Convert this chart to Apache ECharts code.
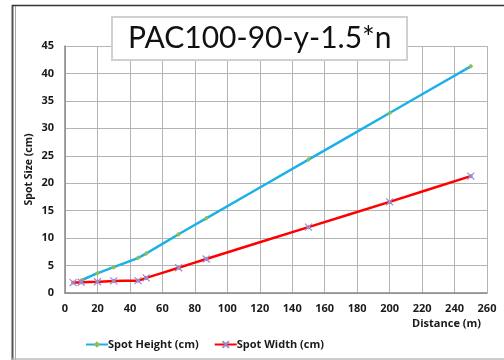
<!DOCTYPE html>
<html>
<head>
<meta charset="utf-8">
<script src="https://cdn.jsdelivr.net/npm/echarts@6/dist/echarts.min.js"></script>
<style>html,body{margin:0;padding:0;background:#fff;}#c{width:504px;height:360px;}</style>
</head>
<body>
<div id="c"></div>
<script>
var titleText = 'PAC100-90-y-1.5*n';
var xTicks = [0, 20, 40, 60, 80, 100, 120, 140, 160, 180, 200, 220, 240, 260];
var heightX = [10, 20, 30, 45, 50, 70, 87, 150, 200, 250];
var heightY = [2.3, 3.6, 4.7, 6.4, 7.2, 10.7, 13.6, 24.3, 32.8, 41.3];
var widthX = [5, 10, 20, 30, 45, 50, 70, 87, 150, 200, 250];
var widthY = [1.9, 1.95, 2.05, 2.2, 2.25, 2.75, 4.6, 6.2, 12.0, 16.6, 21.3];

function pairs(xs, ys) { return xs.map(function (x, i) { return [x, ys[i]]; }); }

var xPath = 'path://M0,0 L10,10 M10,0 L0,10 M5,2 L5,8 M2,5 L8,5';
var font = 'Open Sans';
var lblStyle = { fontFamily: font, fontWeight: 'bold', fontSize: 11, color: '#1a1a1a' };
var chart = echarts.init(document.getElementById('c'));
chart.setOption({
  animation: false,
  backgroundColor: '#fff',
  textStyle: { fontFamily: font },
  title: {
    text: titleText,
    left: 112, top: 17,
    padding: [5, 16, 6, 16],
    backgroundColor: '#fff',
    borderColor: '#d0d0d0', borderWidth: 2,
    textStyle: { fontFamily: 'Lato', fontSize: 30, fontWeight: 'normal', color: '#111', lineHeight: 32 }
  },
  grid: { left: 65, right: 17, top: 46, bottom: 67 },
  xAxis: {
    type: 'value', min: 0, max: 260, interval: 20,
    name: 'Distance (m)', nameLocation: 'end', nameGap: 0, nameMoveOverlap: false,
    nameTextStyle: Object.assign({}, lblStyle, { align: 'right', verticalAlign: 'top', padding: [25, 6, 0, 0] }),
    axisLine: { lineStyle: { color: '#888', width: 1.5 } },
    axisTick: { show: false },
    axisLabel: Object.assign({}, lblStyle, { margin: 10 }),
    splitLine: { lineStyle: { color: '#b4b4b4', width: 1 } }
  },
  yAxis: {
    type: 'value', min: 0, max: 45, interval: 5,
    name: 'Spot Size (cm)', nameLocation: 'middle', nameGap: 30, nameRotate: 90, nameMoveOverlap: false,
    nameTextStyle: Object.assign({}, lblStyle, { fontSize: 10.5 }),
    axisLine: { show: true, lineStyle: { color: '#888', width: 1.5 } },
    axisTick: { show: false },
    axisLabel: Object.assign({}, lblStyle, { margin: 11 }),
    splitLine: { lineStyle: { color: '#b4b4b4', width: 1 } }
  },
  legend: {
    left: 80, top: 334,
    itemWidth: 22, itemHeight: 8, itemGap: 15,
    textStyle: Object.assign({}, lblStyle, { padding: [0, 0, 0, -5] }),
    data: ['Spot Height (cm)', 'Spot Width (cm)']
  },
  graphic: [
    { type: 'line', shape: { x1: 12.5, y1: 5, x2: 12.5, y2: 360 }, style: { stroke: '#555', lineWidth: 2 }, silent: true },
    { type: 'line', shape: { x1: 15.5, y1: 5, x2: 15.5, y2: 360 }, style: { stroke: '#aaa', lineWidth: 1 }, silent: true },
    { type: 'line', shape: { x1: 12, y1: 5.5, x2: 504, y2: 5.5 }, style: { stroke: '#333', lineWidth: 1.5 }, silent: true },
    { type: 'line', shape: { x1: 12, y1: 359, x2: 504, y2: 359 }, style: { stroke: '#bbb', lineWidth: 1.5 }, silent: true }
  ],
  series: [
    {
      name: 'Spot Height (cm)', type: 'line', smooth: 0.25,
      data: pairs(heightX, heightY),
      symbol: 'diamond', symbolSize: 5,
      lineStyle: { color: '#1cb0e8', width: 2.5 },
      itemStyle: { color: '#8fbc58', borderWidth: 0 },
      color: '#1cb0e8'
    },
    {
      name: 'Spot Width (cm)', type: 'line', smooth: 0.25,
      data: pairs(widthX, widthY),
      symbol: xPath, symbolSize: 7,
      lineStyle: { color: '#ff0000', width: 2.5 },
      itemStyle: { color: '#e03030', borderColor: '#a088c8', borderWidth: 1.2 },
      color: '#ff0000'
    }
  ]
});
</script>
</body>
</html>
